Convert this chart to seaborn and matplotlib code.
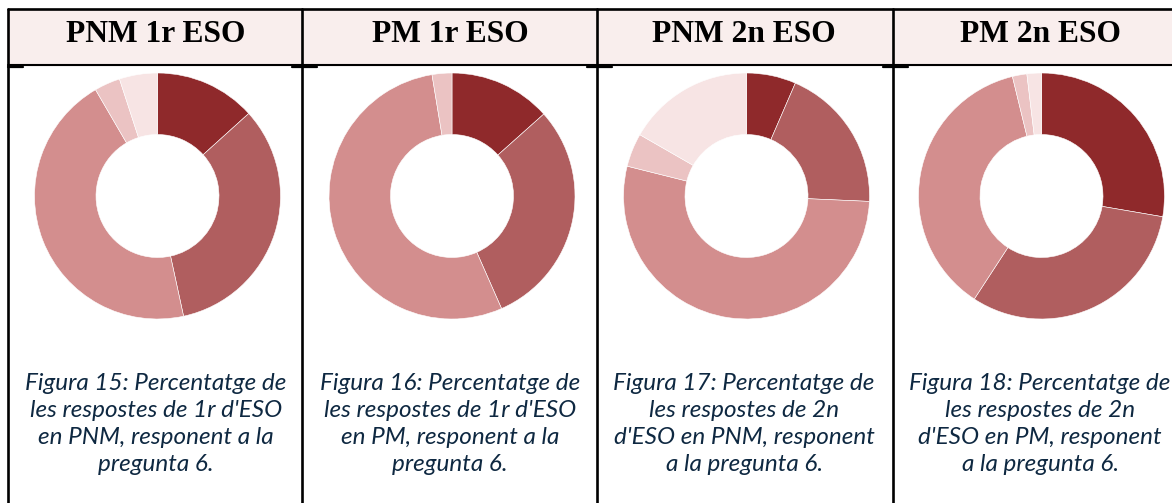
import matplotlib
matplotlib.use("Agg")
import matplotlib.pyplot as plt
import seaborn as sns

# ====== 数据 ======
groups = ["PNM 1r ESO", "PM 1r ESO", "PNM 2n ESO", "PM 2n ESO"]
pnm_1r = [13.3, 33.3, 45.0, 3.4, 5.0]
pm_1r = [13.4, 30.0, 54.0, 2.6, 0.0]
pnm_2n = [6.5, 19.2, 53.2, 4.4, 16.7]
pm_2n = [27.7, 31.5, 37.0, 1.9, 1.9]
captions = [
    "Figura 15: Percentatge de\nles respostes de 1r d'ESO\nen PNM, responent a la\npregunta 6.",
    "Figura 16: Percentatge de\nles respostes de 1r d'ESO\nen PM, responent a la\npregunta 6.",
    "Figura 17: Percentatge de\nles respostes de 2n\nd'ESO en PNM, responent\na la pregunta 6.",
    "Figura 18: Percentatge de\nles respostes de 2n\nd'ESO en PM, responent\na la pregunta 6.",
]
slice_colors = ["#8f292b", "#b05e5f", "#d38e8e", "#ebc3c3", "#f7e4e4"]

# ====== 样式 ======
sns.set_theme(style="white")
plt.rcParams["font.family"] = ["Lato", "DejaVu Sans"]

W, H = 1172, 503
fig = plt.figure(figsize=(W / 100, H / 100), dpi=100)
fig.patch.set_facecolor("white")

# 背景坐标系（像素坐标），画表格线和文字
bg = fig.add_axes([0, 0, 1, 1])
bg.set_xlim(0, W)
bg.set_ylim(H, 0)
bg.axis("off")

left, top, head_bot = 8, 9, 65
dividers = [302, 597, 893]
col_centers = [156, 450, 744, 1040]
donut_centers = [157.5, 452, 746.5, 1041.5]
donut_y, radius = 196, 123

bg.fill_between([left, W + 5], top, head_bot, color="#f9eeed", zorder=0)
lw = 1.9
bg.plot([left, W + 5], [top, top], color="black", lw=lw)
bg.plot([left, W + 5], [head_bot, head_bot], color="black", lw=1.5)
for x in [left] + dividers:
    bg.plot([x, x], [top, H + 5], color="black", lw=lw)
# 内嵌表格的小角标
bg.plot([left, 23], [67, 67], color="black", lw=1.6)
for x in dividers:
    bg.plot([x - 10, x + 15], [67, 67], color="black", lw=1.6)

for name, cx in zip(groups, col_centers):
    bg.text(cx, 41.5, name, ha="center", va="baseline", fontsize=22.7,
            fontweight="bold", family=["Liberation Serif"], color="black")

for cap, cx in zip(captions, col_centers):
    bg.text(cx, 424, cap, ha="center", va="center", multialignment="center",
            fontsize=17.5, style="italic", color="#0e2841", linespacing=1.37)

# ====== 环形图 ======
for values, cx in zip([pnm_1r, pm_1r, pnm_2n, pm_2n], donut_centers):
    ax = fig.add_axes([(cx - radius) / W, 1 - (donut_y + radius) / H,
                       2 * radius / W, 2 * radius / H])
    vals = [v for v in values if v > 0]
    cols = [c for v, c in zip(values, slice_colors) if v > 0]
    ax.pie(vals, colors=cols, startangle=90, counterclock=False, radius=1,
           wedgeprops={"width": 0.5, "edgecolor": "white", "linewidth": 0.4})
    ax.set_xlim(-1, 1)
    ax.set_ylim(-1, 1)
    ax.set_aspect("equal")
    ax.axis("off")

fig.savefig("out.png", dpi=100)
